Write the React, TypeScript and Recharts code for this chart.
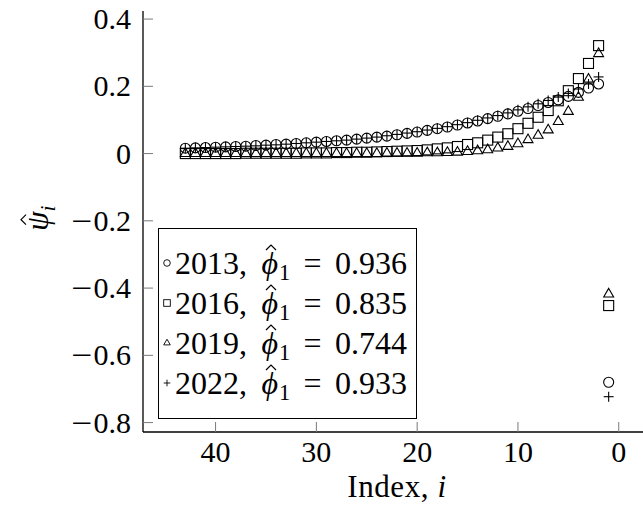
import React from 'react';
import { ScatterChart, Scatter, XAxis, YAxis, Legend } from 'recharts';

// ---------- data ----------
const INDEX = [1, 2, 3, 4, 5, 6, 7, 8, 9, 10, 11, 12, 13, 14, 15, 16, 17, 18, 19, 20, 21, 22, 23, 24, 25, 26, 27, 28, 29, 30, 31, 32, 33, 34, 35, 36, 37, 38, 39, 40, 41, 42, 43];

const PSI_2013 = [-0.680, 0.207, 0.195, 0.182, 0.170, 0.160, 0.152, 0.143, 0.134, 0.126, 0.118, 0.111, 0.104, 0.097, 0.091, 0.085, 0.079, 0.074, 0.069, 0.064, 0.060, 0.056, 0.052, 0.049, 0.046, 0.043, 0.040, 0.038, 0.036, 0.034, 0.032, 0.030, 0.028, 0.027, 0.025, 0.024, 0.022, 0.021, 0.020, 0.019, 0.018, 0.017, 0.016];
const PSI_2016 = [-0.452, 0.321, 0.268, 0.223, 0.187, 0.157, 0.128, 0.108, 0.090, 0.074, 0.059, 0.049, 0.040, 0.032, 0.027, 0.021, 0.017, 0.014, 0.011, 0.009, 0.008, 0.007, 0.006, 0.005, 0.004, 0.004, 0.003, 0.003, 0.002, 0.002, 0.002, 0.001, 0.001, 0.001, 0.001, 0.001, 0.001, 0.000, 0.000, 0.000, 0.000, 0.000, 0.000];
const PSI_2019 = [-0.418, 0.297, 0.221, 0.167, 0.125, 0.095, 0.070, 0.054, 0.041, 0.029, 0.021, 0.016, 0.011, 0.008, 0.006, 0.004, 0.003, 0.002, 0.002, 0.001, 0.001, 0.001, 0.001, 0.000, 0.000, 0.000, 0.000, 0.000, 0.000, 0.000, 0.000, 0.000, 0.000, 0.000, 0.000, 0.000, 0.000, 0.000, 0.000, 0.000, 0.000, 0.000, 0.000];
const PSI_2022 = [-0.723, 0.228, 0.207, 0.192, 0.179, 0.168, 0.158, 0.148, 0.139, 0.130, 0.121, 0.113, 0.106, 0.099, 0.092, 0.086, 0.080, 0.075, 0.070, 0.065, 0.061, 0.057, 0.053, 0.049, 0.046, 0.043, 0.040, 0.038, 0.036, 0.034, 0.032, 0.030, 0.028, 0.026, 0.025, 0.023, 0.022, 0.021, 0.020, 0.019, 0.018, 0.017, 0.016];

const YEARS = ['2013', '2016', '2019', '2022'];
const PHI_HAT = ['0.936', '0.835', '0.744', '0.933'];
const MARKERS = ['circle', 'square', 'triangle', 'plus'];

const X_TICKS = [0, 10, 20, 30, 40];
const Y_TICKS = [-0.8, -0.6, -0.4, -0.2, 0, 0.2, 0.4];
const X_DOMAIN = [-3.2, 47.2];
const Y_DOMAIN = [-0.828, 0.424];

const SERIES = [PSI_2013, PSI_2016, PSI_2019, PSI_2022];

// ---------- styles ----------
const FONT = '"Liberation Serif", "DejaVu Serif", serif';
const TICK_FONT = 30;
const TICK_LEN = 10;
const TICK_COLOR = '#7a7a7a';
const INK = '#000';

function Marker({ kind, cx, cy, r, sw }: { kind: string; cx: number; cy: number; r: number; sw: number }) {
  if (kind === 'circle') return <circle cx={cx} cy={cy} r={r} fill="none" stroke={INK} strokeWidth={sw} />;
  if (kind === 'square') return <rect x={cx - r} y={cy - r} width={2 * r} height={2 * r} fill="none" stroke={INK} strokeWidth={sw} />;
  if (kind === 'triangle') {
    const R = r * 1.15;
    const h = R * Math.sqrt(3) / 2;
    return <polygon points={`${cx},${cy - R} ${cx - h},${cy + R / 2} ${cx + h},${cy + R / 2}`} fill="none" stroke={INK} strokeWidth={sw} />;
  }
  return (
    <g stroke={INK} strokeWidth={sw}>
      <line x1={cx - r} y1={cy} x2={cx + r} y2={cy} />
      <line x1={cx} y1={cy - r} x2={cx} y2={cy + r} />
    </g>
  );
}

const makeShape = (kind: string) => (p: any) => <Marker kind={kind} cx={p.cx} cy={p.cy} r={5} sw={1.1} />;

function BottomTick(p: any) {
  const { x, y, payload } = p;
  return (
    <g>
      <line x1={x} y1={y} x2={x} y2={y - TICK_LEN} stroke={TICK_COLOR} strokeWidth={1} />
      <text x={x} y={y + 30} textAnchor="middle" fontFamily={FONT} fontSize={TICK_FONT} fill={INK}>{payload.value}</text>
    </g>
  );
}
function TopTick(p: any) {
  const { x, y } = p;
  return <line x1={x} y1={y} x2={x} y2={y + TICK_LEN} stroke={TICK_COLOR} strokeWidth={1} />;
}
function LeftTick(p: any) {
  const { x, y, payload } = p;
  const v: number = payload.value;
  const body = v === 0 ? '0' : Math.abs(v).toFixed(1);
  const right = x - 12;
  const bodyW = v === 0 ? 15 : 37.5;
  return (
    <g>
      <line x1={x} y1={y} x2={x + TICK_LEN} y2={y} stroke={TICK_COLOR} strokeWidth={1} />
      <text x={right} y={y + 10} textAnchor="end" fontFamily={FONT} fontSize={TICK_FONT} fill={INK}>{body}</text>
      {v < 0 ? (
        <text x={right - bodyW - 22} y={y + 10} textLength={21} lengthAdjust="spacingAndGlyphs" fontFamily={FONT} fontSize={TICK_FONT} fill={INK}>{'\u2212'}</text>
      ) : null}
    </g>
  );
}
function RightTick(p: any) {
  const { x, y } = p;
  return <line x1={x} y1={y} x2={x - TICK_LEN} y2={y} stroke={TICK_COLOR} strokeWidth={1} />;
}

function Hat({ left, top, w, h }: { left: number; top: number; w: number; h: number }) {
  return (
    <svg width={w} height={h + 2} style={{ position: 'absolute', left, top, overflow: 'visible' }}>
      <polyline points={`0,${h + 1} ${w / 2},1 ${w},${h + 1}`} fill="none" stroke={INK} strokeWidth={1.2} />
    </svg>
  );
}

function LegendBox(props: any) {
  const payload = props.payload || [];
  return (
    <div style={{ width: '100%', height: '100%', boxSizing: 'border-box', border: '1.3px solid #000', background: '#fff', paddingTop: 14, fontFamily: FONT, fontSize: 32, color: INK }}>
      {payload.map((entry: any, k: number) => {
        const idx = YEARS.indexOf(String(entry.value));
        return (
          <div key={k} style={{ height: 40, display: 'flex', alignItems: 'center', whiteSpace: 'nowrap' }}>
            <svg width={12} height={12} style={{ marginLeft: 2, marginRight: 2 }}>
              <Marker kind={MARKERS[idx]} cx={6} cy={6} r={3.3} sw={0.9} />
            </svg>
            <span>
              {YEARS[idx]},
              <span style={{ position: 'relative', display: 'inline-block', fontStyle: 'italic', marginLeft: '0.45em' }}>
                {'\u03D5'}
                <Hat left={5} top={-1} w={10} h={5} />
              </span>
              <span style={{ fontSize: '0.7em', position: 'relative', top: '0.3em', marginLeft: 1 }}>1</span>
              <span style={{ margin: '0 0.42em' }}>=</span>{PHI_HAT[idx]}
            </span>
          </div>
        );
      })}
    </div>
  );
}

export default function App() {
  return (
    <div style={{ position: 'fixed', left: 0, top: 0, width: 643, height: 511, overflow: 'hidden', background: '#fff' }}>
      <ScatterChart width={660} height={511} margin={{ top: 11, right: 9, bottom: 19, left: 63 }}>
        <XAxis type="number" dataKey="i" domain={X_DOMAIN} reversed allowDataOverflow ticks={X_TICKS} height={60}
          tickSize={0} tickMargin={0} tick={<BottomTick />} axisLine={{ stroke: INK, strokeWidth: 1.3 }} interval={0} />
        <XAxis xAxisId="top" orientation="top" type="number" dataKey="i" domain={X_DOMAIN} reversed allowDataOverflow ticks={X_TICKS} height={0}
          tickSize={0} tickMargin={0} tick={<TopTick />} axisLine={{ stroke: INK, strokeWidth: 1.3 }} interval={0} />
        <YAxis type="number" dataKey="v" domain={Y_DOMAIN} allowDataOverflow ticks={Y_TICKS} width={80}
          tickSize={0} tickMargin={0} tick={<LeftTick />} axisLine={{ stroke: INK, strokeWidth: 1.3 }} interval={0} />
        <YAxis yAxisId="right" orientation="right" type="number" dataKey="v" domain={Y_DOMAIN} allowDataOverflow ticks={Y_TICKS} width={0}
          tickSize={0} tickMargin={0} tick={<RightTick />} axisLine={{ stroke: INK, strokeWidth: 1.3 }} interval={0} />
        {SERIES.map((vals, s) => (
          <Scatter key={YEARS[s]} name={YEARS[s]} data={INDEX.map((i, k) => ({ i, v: vals[k] }))}
            shape={makeShape(MARKERS[s])} isAnimationActive={false} legendType="none" />
        ))}
        <Legend layout="vertical" align="center" verticalAlign="middle"
          payload={YEARS.map((y) => ({ value: y, type: 'circle', id: y, color: INK }))}
          content={<LegendBox />}
          wrapperStyle={{ position: 'absolute', left: 158, top: 228, width: 259, height: 191, margin: 0 }} />
      </ScatterChart>
      <div style={{ position: 'absolute', left: 397, top: 487, transform: 'translate(-50%, -50%)', fontFamily: FONT, fontSize: 31, letterSpacing: 0.6, whiteSpace: 'nowrap', color: INK }}>
        Index, <span style={{ fontStyle: 'italic' }}>i</span>
      </div>
      <div style={{ position: 'absolute', left: 38, top: 218, transform: 'translate(-50%, -50%) rotate(-90deg)', fontFamily: FONT, fontSize: 31, whiteSpace: 'nowrap', color: INK }}>
        <span style={{ position: 'relative', display: 'inline-block', fontStyle: 'italic' }}>
          {'\u03C8'}
          <Hat left={6} top={0} w={10} h={5} />
        </span>
        <span style={{ fontStyle: 'italic', fontSize: '0.7em', position: 'relative', top: '0.3em' }}>i</span>
      </div>
    </div>
  );
}
